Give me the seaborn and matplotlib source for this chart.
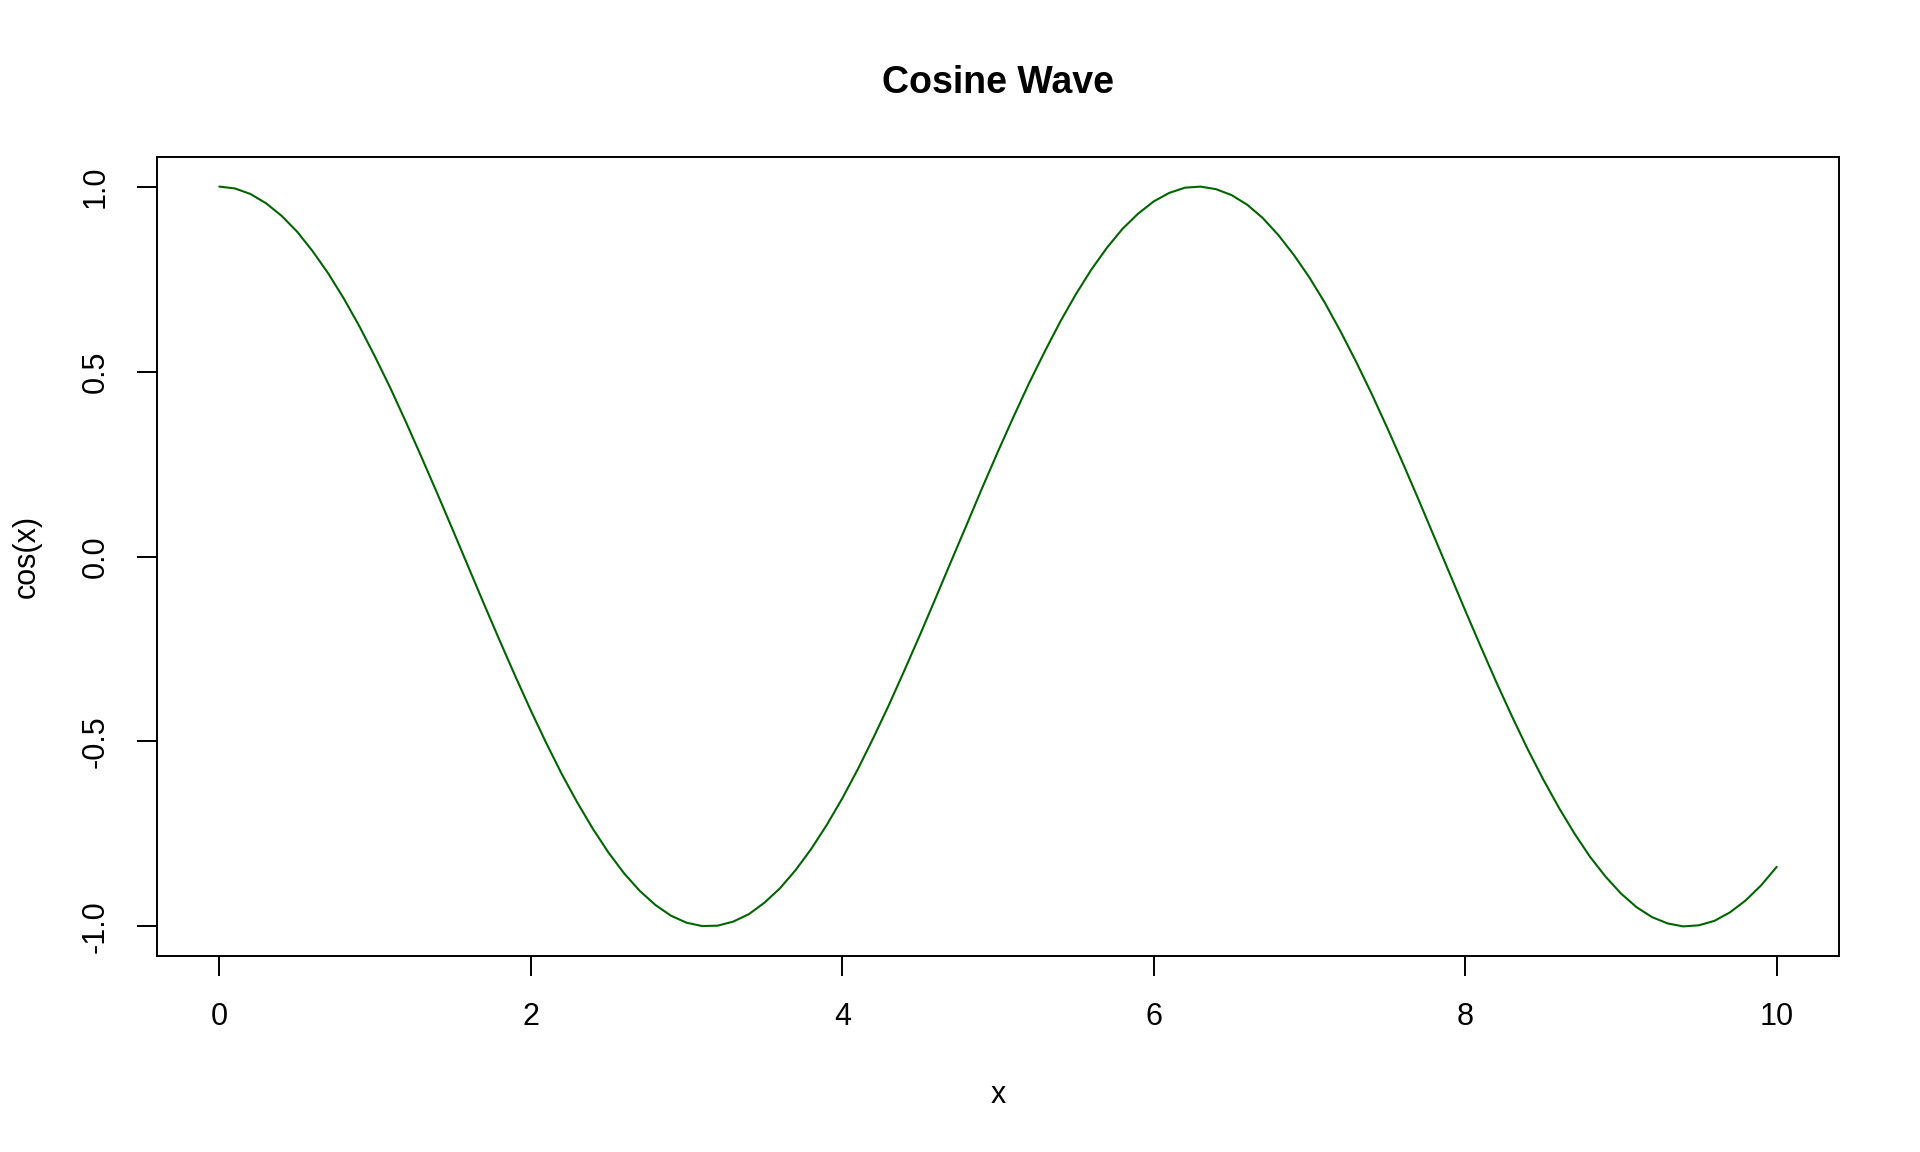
import matplotlib
matplotlib.use("Agg")
import matplotlib.pyplot as plt
import seaborn as sns
import pandas as pd

# Values (x step 0.1 from 0 to 10)
x_values = [round(i * 0.1, 1) for i in range(101)]
y_values = [
    1.000, 0.995, 0.980, 0.955, 0.921, 0.878, 0.825, 0.765, 0.697, 0.622,
    0.540, 0.454, 0.362, 0.267, 0.170, 0.071, -0.029, -0.129, -0.227, -0.323,
    -0.416, -0.505, -0.589, -0.666, -0.737, -0.801, -0.857, -0.904, -0.942, -0.971,
    -0.990, -0.999, -0.998, -0.987, -0.967, -0.936, -0.897, -0.848, -0.791, -0.726,
    -0.654, -0.575, -0.490, -0.401, -0.307, -0.211, -0.112, -0.012, 0.087, 0.187,
    0.284, 0.378, 0.469, 0.554, 0.635, 0.709, 0.776, 0.835, 0.886, 0.927,
    0.960, 0.983, 0.997, 1.000, 0.993, 0.977, 0.951, 0.915, 0.869, 0.815,
    0.754, 0.685, 0.608, 0.526, 0.439, 0.347, 0.252, 0.154, 0.054, -0.046,
    -0.146, -0.244, -0.340, -0.432, -0.520, -0.602, -0.678, -0.748, -0.811, -0.865,
    -0.911, -0.948, -0.975, -0.992, -1.000, -0.997, -0.985, -0.962, -0.930, -0.889,
    -0.839,
]
x_ticks = [0, 2, 4, 6, 8, 10]
y_ticks = [-1.0, -0.5, 0.0, 0.5, 1.0]
y_tick_labels = ["-1.0", "-0.5", "0.0", "0.5", "1.0"]
title = "Cosine Wave"
x_label = "x"
y_label = "cos(x)"

sns.set_style("white")
plt.rcParams["font.family"] = ["Liberation Sans", "DejaVu Sans"]

df = pd.DataFrame({"x": x_values, "y": y_values})

fig = plt.figure(figsize=(19.2, 11.52), dpi=100)
ax = fig.add_axes([157 / 1920, 1 - 956 / 1152, (1839 - 157) / 1920, (956 - 157) / 1152])

sns.lineplot(data=df, x="x", y="y", ax=ax, color="#006400", linewidth=1.5, estimator=None)

ax.set_xlim(-0.4, 10.4)
ax.set_ylim(-1.08, 1.08)

ax.set_xticks(x_ticks)
ax.set_xticklabels([str(t) for t in x_ticks])
ax.set_yticks(y_ticks)
ax.set_yticklabels(y_tick_labels, rotation=90, va="center")

ax.tick_params(axis="both", which="major", direction="out", length=14.4, width=1.4,
               color="black", labelsize=22, labelcolor="black", pad=19,
               bottom=True, left=True, top=False, right=False)

for sp in ax.spines.values():
    sp.set_visible(True)
    sp.set_color("black")
    sp.set_linewidth(1.4)

ax.set_xlabel(x_label, fontsize=22, color="black")
ax.set_ylabel(y_label, fontsize=22, color="black")
ax.xaxis.label.set_va("center")
ax.yaxis.label.set_va("center")
ax.xaxis.set_label_coords(0.5, -(1095 - 956) / 799)
ax.yaxis.set_label_coords((27 - 157) / 1682, 0.5)

fig.text(998 / 1920, 1 - 93 / 1152, title, fontsize=27, fontweight="bold",
         color="black", ha="center", va="baseline")

ax.grid(False)
fig.savefig("out.png", dpi=100, facecolor="white")
